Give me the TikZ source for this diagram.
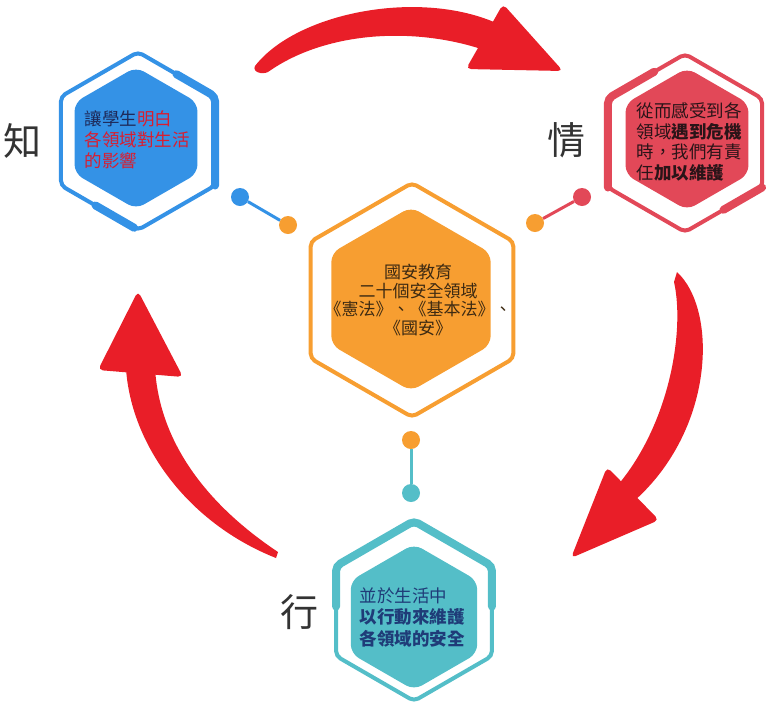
\documentclass[tikz,border=0pt]{standalone}
\usepackage{fontspec}
\newfontfamily\cjk{Noto Sans CJK TC}
\usetikzlibrary{calc,shapes.geometric}

\definecolor{zhiblue}{HTML}{3492E6}
\definecolor{qingred}{HTML}{E24858}
\definecolor{coreorange}{HTML}{F79E31}
\definecolor{xingteal}{HTML}{54BEC8}
\definecolor{brushred}{HTML}{E91E28}
\definecolor{navytext}{HTML}{1E2A5A}
\definecolor{zhitext}{HTML}{D91E30}
\definecolor{qingtext}{HTML}{2A1418}
\definecolor{coretext}{HTML}{3D2A12}
\definecolor{xingtext}{HTML}{1F3C78}
\definecolor{labelgray}{HTML}{333333}

\tikzset{
  hexring/.style={regular polygon, regular polygon sides=6, shape border rotate=30,
    draw, line width=4pt, rounded corners=5pt, inner sep=0pt, outer sep=0pt, minimum size=#1},
  hexcore/.style={regular polygon, regular polygon sides=6, shape border rotate=30,
    rounded corners=9pt, inner sep=0pt, outer sep=0pt, minimum size=#1},
  ringthick/.style={line width=8pt, rounded corners=5pt, line cap=round},
  knob/.style={circle, minimum size=18pt, inner sep=0pt},
  link/.style={line width=3pt},
  hextext/.style={font=\cjk\fontsize{17.5}{21}\selectfont, align=left, inner sep=0pt},
  sidelabel/.style={font=\cjk\fontsize{38}{38}\selectfont, text=labelgray, inner sep=0pt},
  brush/.style={fill=brushred},
}

\begin{document}
\begin{tikzpicture}[x=1pt, y=-1pt]
    \useasboundingbox (0,0) rectangle (776,710);

    \fill[brush] (255,66) .. controls (300,8) and (440,-15) .. (515,33)
      -- (505,58) .. controls (430,25) and (330,28) .. (268,72)
      .. controls (262,75) and (252,72) .. (255,66) -- cycle;
    \fill[brush, rounded corners=5pt] (503,4) -- (563,71) -- (466,69) -- cycle;

    \fill[brush] (677,272) .. controls (718,310) and (715,430) .. (633,502)
      -- (610,494) .. controls (670,430) and (685,330) .. (674,282) -- cycle;
    \fill[brush, rounded corners=5pt] (607,467) -- (659,520) -- (571,558) -- cycle;

    \fill[brush] (276,558) .. controls (180,520) and (120,430) .. (126,345)
      -- (155,345) .. controls (150,430) and (200,500) .. (278,552) -- cycle;
    \fill[brush, rounded corners=5pt] (138,291) -- (183,377) -- (98,370) -- cycle;

    \node[hexring=178pt, draw=zhiblue] (zhiring) at (138,141) {};
    \node[hexcore=142pt, fill=zhiblue] (zhicore) at (136,138) {};
    \node[hexring=178pt, draw=qingred] (qingring) at (685,143) {};
    \node[hexcore=142pt, fill=qingred] (qingcore) at (687,139) {};
    \node[hexring=234pt, draw=coreorange] (corering) at (412,300) {};
    \node[hexcore=184pt, fill=coreorange] (corecore) at (411,299) {};
    \node[hexring=180pt, draw=xingteal] (xingring) at (414,611) {};
    \node[hexcore=146pt, fill=xingteal] (xingcore) at (414,617) {};

    \draw[ringthick, zhiblue] ($(zhiring.90)!0.5!(zhiring.30)$) -- (zhiring.30) -- (zhiring.-30);
    \draw[ringthick, zhiblue] ($(zhiring.-150)!0.45!(zhiring.-90)$) -- ($(zhiring.-150)!0.95!(zhiring.-90)$);
    \draw[ringthick, qingred] ($(qingring.90)!0.4!(qingring.150)$) -- (qingring.150) -- (qingring.-150);
    \draw[ringthick, qingred] ($(qingring.-90)!0.5!(qingring.-30)$) -- (qingring.-30);
    \draw[ringthick, xingteal] ($(xingring.150)!0.45!(xingring.-150)$) -- (xingring.150)
      -- (xingring.90) -- (xingring.30) -- ($(xingring.30)!0.45!(xingring.-30)$);

    \node[hextext, text=zhitext] (zhinote) at (137,140)
      {{\color{navytext}讓學生}明白\\各領域對生活\\的影響};
    \node[hextext, text=qingtext, font=\cjk\fontsize{17.5}{20.5}\selectfont] (qingnote) at (689,142)
      {從而感受到各\\領域\textbf{遇到危機}\\時，我們有責\\任\textbf{加以維護}};
    \node[hextext, text=coretext, align=center, font=\cjk\fontsize{17}{18.5}\selectfont] (corenote) at (418,300)
      {國安教育\\二十個安全領域\\《憲法》、《基本法》、\\《國安》};
    \node[hextext, text=xingtext, font=\cjk\fontsize{17.5}{21.5}\selectfont] (xingnote) at (412,617)
      {並於生活中\\\textbf{以行動來維護}\\\textbf{各領域的安全}};

    \node[knob, fill=zhiblue] (zhiknob) at (240,197) {};
    \node[knob, fill=coreorange] (corezhi) at (288,225) {};
    \node[knob, fill=qingred] (qingknob) at (582,197) {};
    \node[knob, fill=coreorange] (coreqing) at (535,223) {};
    \node[knob, fill=coreorange] (corexing) at (411,440) {};
    \node[knob, fill=xingteal] (xingknob) at (411,493) {};
    \draw[link, zhiblue] (zhiknob) -- (corezhi);
    \draw[link, qingred] (qingknob) -- (coreqing);
    \draw[link, xingteal] (corexing) -- (xingknob);

    \node[sidelabel] (zhi) at (22,141) {知};
    \node[sidelabel] (qing) at (566,140) {情};
    \node[sidelabel] (xing) at (299,612) {行};
  \end{tikzpicture}
\end{document}
